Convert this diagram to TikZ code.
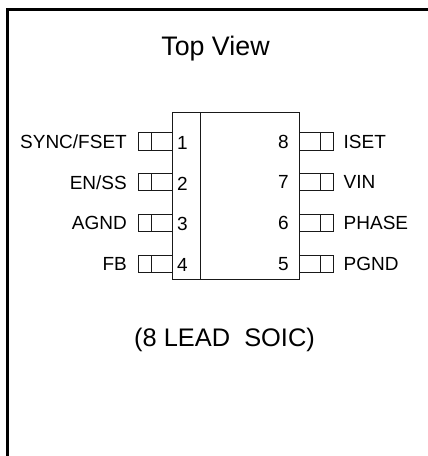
\documentclass[tikz,border=0pt]{standalone}
\usepackage{fontspec}
\setmainfont{Liberation Sans}
\tikzset{
  frameline/.style={line width=3pt,line cap=butt},
  partline/.style={line width=0.8pt,draw=black!90},
  pinlabel/.style={inner sep=0pt,font=\fontsize{19}{20}\selectfont,text=black},
  heading/.style={inner sep=0pt,font=\fontsize{26.8}{30}\selectfont,text=black},
}
\begin{document}
\begin{tikzpicture}[x=1pt,y=-1pt]
\useasboundingbox (0,0) rectangle (428,456);
\draw[frameline] (428,9.5) -- (7.5,9.5) -- (7.5,456);
\node[heading] (title) at (215.5,49) {Top View};
\node[heading,font=\fontsize{25.4}{30}\selectfont] (pkg) at (224.5,340) {(8 LEAD\ \ SOIC)};
\draw[partline] (172.5,112.5) rectangle (299.5,279.5);
\draw[partline] (200.5,112.5) -- (200.5,279.5);
\foreach \t/\ln/\lt/\rn/\rt [count=\i from 0] in {
  132.7/1/SYNC\slash FSET/8/ISET,
  173.5/2/EN\slash SS/7/VIN,
  214.2/3/AGND/6/PHASE,
  255/4/FB/5/PGND}{
  \pgfmathsetmacro{\b}{\t+17.3}
  \pgfmathsetmacro{\m}{\t+8.9}
  \draw[partline] (172.5,\t) -- (138.5,\t) -- (138.5,\b) -- (172.5,\b);
  \draw[partline] (151,\t) -- (151,\b);
  \draw[partline] (299.5,\t) -- (333.5,\t) -- (333.5,\b) -- (299.5,\b);
  \draw[partline] (320.5,\t) -- (320.5,\b);
  \node[pinlabel,anchor=east] (ln\i) at (127,\m) {\lt};
  \node[pinlabel] (ld\i) at (182.5,\m+1) {\ln};
  \node[pinlabel] (rd\i) at (283.5,\m) {\rn};
  \node[pinlabel,anchor=west] (rn\i) at (343.5,\m) {\rt};
}
\end{tikzpicture}
\end{document}
